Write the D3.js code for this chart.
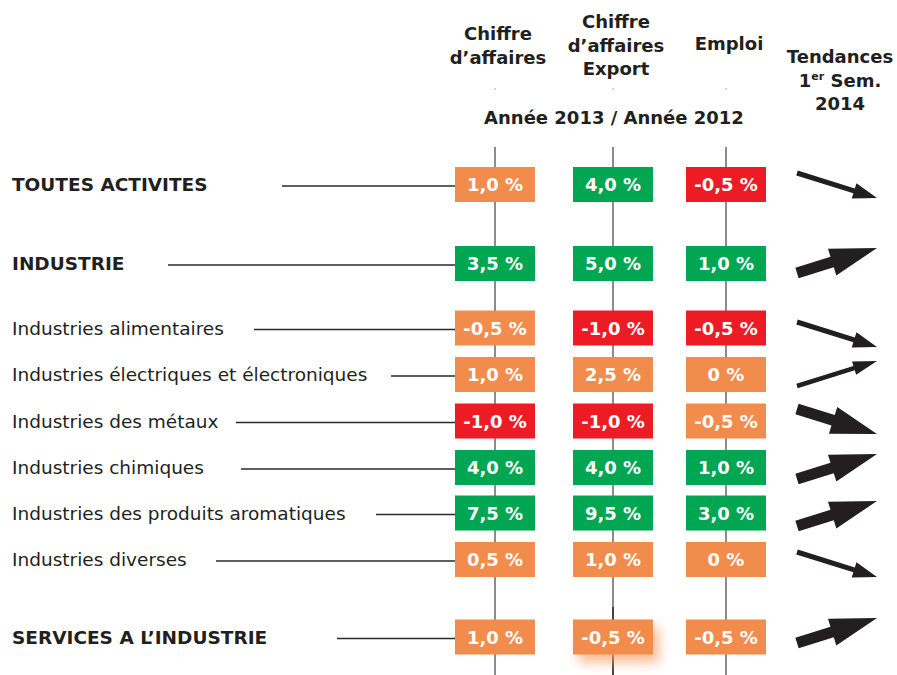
<!DOCTYPE html>
<html><head><meta charset="utf-8">
<script src="https://cdn.jsdelivr.net/npm/d3@7"></script>
<style>html,body{margin:0;padding:0;background:#fff;}svg{display:block;}</style>
</head><body>
<svg id="chart" width="897" height="675"></svg>
<script>
// ---- data ----
const sectors = ["TOUTES ACTIVITES","INDUSTRIE","Industries alimentaires","Industries électriques et électroniques","Industries des métaux","Industries chimiques","Industries des produits aromatiques","Industries diverses","SERVICES A L\u2019INDUSTRIE"];
const headline = [true,true,false,false,false,false,false,false,true];
const chiffreAffaires = [1.0, 3.5, -0.5, 1.0, -1.0, 4.0, 7.5, 0.5, 1.0];
const chiffreAffairesExport = [4.0, 5.0, -1.0, 2.5, -1.0, 4.0, 9.5, 1.0, -0.5];
const emploi = [-0.5, 1.0, -0.5, 0, -0.5, 1.0, 3.0, 0, -0.5];
const statusCA = ["=","+","=","=","-","+","+","=","="];
const statusExport = ["+","+","-","=","-","+","+","=","="];
const statusEmploi = ["-","+","-","=","=","+","+","=","="];
const tendance = ["baisse","forte hausse","baisse","hausse","forte baisse","forte hausse","forte hausse","baisse","forte hausse"];
const columns = ["ca","export","emploi"];
const columnTitles = [["Chiffre","d\u2019affaires"],["Chiffre","d\u2019affaires","Export"],["Emploi"]];
const subTitle = "Année 2013 / Année 2012";

// ---- layout ----
const rowCenters = [184.5, 263.5, 328, 374.5, 421, 467.5, 513, 559.5, 637];
const colCenters = [495, 613, 726];
const connectorStart = [282, 168, 254, 391, 236, 241, 376, 216, 337];
const arrowShift = [1, -3, 6.5, -1, 0.5, -1, 0.5, 5, -6.5];
const boxW = 80, boxH = 35;

const svg = d3.select("#chart");
const font = "'DejaVu Sans', sans-serif";
const ink = "#231f20";

const y = d3.scaleOrdinal().domain(d3.range(sectors.length)).range(rowCenters);
const x = d3.scaleOrdinal().domain(columns).range(colCenters);
const color = d3.scaleOrdinal().domain(["+","=","-"]).range(["#00a651","#f28c4c","#ed1c24"]);

const loc = d3.formatLocale({decimal: ",", thousands: " ", grouping: [3], currency: ["", " €"], minus: "-"});
const f1 = loc.format(".1f");
const fmt = v => (v === 0 ? "0" : f1(v)) + " %";

const values = {ca: chiffreAffaires, export: chiffreAffairesExport, emploi: emploi};
const status = {ca: statusCA, export: statusExport, emploi: statusEmploi};

// defs: blur glow
const defs = svg.append("defs");
defs.append("filter").attr("id","glow").attr("x","-50%").attr("y","-50%").attr("width","200%").attr("height","200%")
  .append("feGaussianBlur").attr("stdDeviation", 6);

// vertical column lines
columns.forEach(c => {
  svg.append("line").attr("x1", x(c)).attr("x2", x(c)).attr("y1", 88).attr("y2", 90)
    .attr("stroke", "#c8c8c8").attr("stroke-width", 1.5);
  svg.append("line").attr("x1", x(c)).attr("x2", x(c)).attr("y1", 147).attr("y2", 675)
    .attr("stroke", "#8c8c8c").attr("stroke-width", 2);
});
// dark segment on export column at bottom
svg.append("line").attr("x1", x("export")).attr("x2", x("export"))
  .attr("y1", y(7) + boxH/2 + 30).attr("y2", 675).attr("stroke", "#111").attr("stroke-width", 1.2);

// headers
columnTitles.forEach((lines, i) => {
  const n = lines.length;
  const baseTop = n === 3 ? 28 : (n === 2 ? 40 : 50);
  const t = svg.append("text").attr("text-anchor","middle").attr("font-family", font)
    .attr("font-weight","bold").attr("font-size", 18).attr("fill", ink);
  lines.forEach((l, k) => t.append("tspan").attr("x", x(columns[i]) + 3).attr("y", baseTop + k * 23.5).text(l));
});
const tend = svg.append("text").attr("text-anchor","middle").attr("font-family", font)
  .attr("font-weight","bold").attr("font-size", 18).attr("fill", ink);
tend.append("tspan").attr("x", 840).attr("y", 63).text("Tendances");
const l2 = tend.append("tspan").attr("x", 840).attr("y", 87);
l2.append("tspan").text("1");
l2.append("tspan").attr("font-size", 11).attr("dy", -7).text("er");
l2.append("tspan").attr("dy", 7).text(" Sem.");
tend.append("tspan").attr("x", 840).attr("y", 110).text("2014");

svg.append("text").attr("x", 614).attr("y", 124).attr("text-anchor","middle")
  .attr("font-family", font).attr("font-weight","bold").attr("font-size", 18).attr("fill", ink)
  .text(subTitle);

// row labels and connectors
const rows = svg.selectAll("g.row").data(sectors).join("g").attr("class","row");
rows.append("line")
  .attr("x1", (d,i) => connectorStart[i]).attr("x2", x("ca") - boxW/2)
  .attr("y1", (d,i) => y(i) + 1.5).attr("y2", (d,i) => y(i) + 1.5)
  .attr("stroke", "#2a2a2a").attr("stroke-width", 1.3);
rows.append("text")
  .attr("x", 12).attr("y", (d,i) => y(i) + 6.5)
  .attr("font-family", font).attr("font-size", 18.5)
  .attr("font-weight", (d,i) => headline[i] ? "bold" : "normal")
  .attr("fill", ink)
  .text(d => d);

// glow under export box of last row
svg.append("rect")
  .attr("x", x("export") - boxW/2 + 6).attr("y", y(8) - boxH/2 + 8)
  .attr("width", boxW).attr("height", boxH)
  .attr("fill", "#f6a46e").attr("opacity", 0.75).attr("filter", "url(#glow)");

// value boxes
columns.forEach(c => {
  const g = svg.append("g");
  const cells = g.selectAll("g").data(values[c]).join("g");
  cells.append("rect")
    .attr("x", x(c) - boxW/2).attr("y", (d,i) => y(i) - boxH/2)
    .attr("width", boxW).attr("height", boxH)
    .attr("fill", (d,i) => color(status[c][i]));
  cells.append("text")
    .attr("x", x(c)).attr("y", (d,i) => y(i) + 6.5)
    .attr("text-anchor","middle").attr("font-family", font).attr("font-weight","bold")
    .attr("font-size", 18).attr("fill", "#fff")
    .text(d => fmt(d));
});

// trend arrows
const arrowStyle = {
  "baisse": {dir: 1, w: 5, L: 24, H: 8},
  "hausse": {dir: -1, w: 4.5, L: 24, H: 7},
  "forte baisse": {dir: 1, w: 11, L: 46, H: 14},
  "forte hausse": {dir: -1, w: 11, L: 47, H: 14}
};
function arrowPath(tx, ty, px, py, s) {
  const dx = px - tx, dy = py - ty, len = Math.hypot(dx, dy);
  const ux = dx/len, uy = dy/len, nx = -uy, ny = ux;
  const bx = px - ux*s.L, by = py - uy*s.L;
  const pts = [
    [tx + nx*s.w/2, ty + ny*s.w/2],
    [bx + nx*s.w/2, by + ny*s.w/2],
    [bx + nx*s.H, by + ny*s.H],
    [px, py],
    [bx - nx*s.H, by - ny*s.H],
    [bx - nx*s.w/2, by - ny*s.w/2],
    [tx - nx*s.w/2, ty - ny*s.w/2]
  ];
  return d3.line()(pts) + "Z";
}
svg.selectAll("path.arrow").data(tendance).join("path").attr("class","arrow")
  .attr("d", (d,i) => {
    const s = arrowStyle[d];
    const cy = y(i) + arrowShift[i];
    return arrowPath(797, cy - s.dir*12.5, 877, cy + s.dir*12.5, s);
  })
  .attr("fill", ink);
</script>
</body></html>
